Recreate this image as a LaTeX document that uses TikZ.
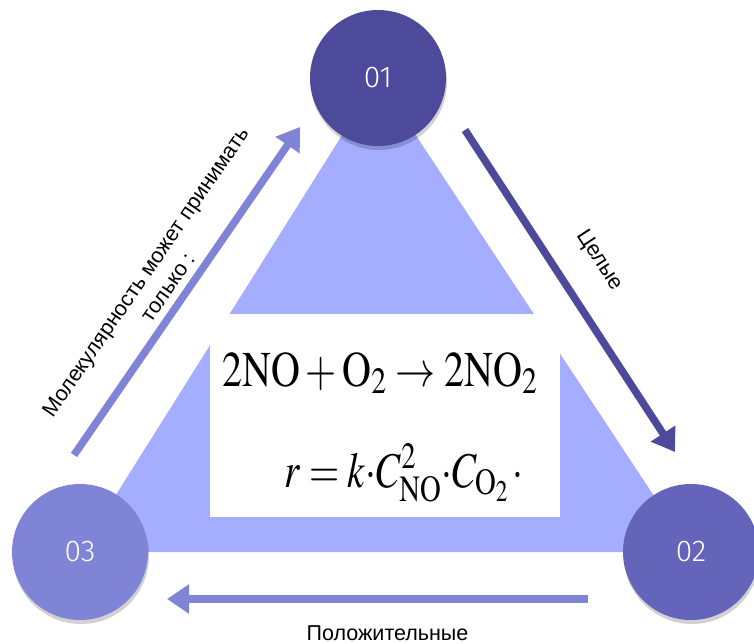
\documentclass[tikz,border=0pt]{standalone}
\usepackage{mathptmx}
\usepackage[no-math]{fontspec}
\usepackage{graphicx}
\newfontfamily\labfont{Liberation Sans}
\newfontfamily\numfont{Fira Sans Light}
\usetikzlibrary{arrows.meta, positioning, shadows, backgrounds}
\definecolor{stepone}{HTML}{4D4A9C}
\definecolor{steptwo}{HTML}{6364BA}
\definecolor{stepthree}{HTML}{7F84D6}
\definecolor{trifill}{HTML}{A4ADFF}

\begin{document}
\begin{tikzpicture}[x=1pt, y=-1pt,
  stepnode/.style={circle, minimum size=136pt, inner sep=0pt, text=white,
                   font=\numfont\fontsize{30}{30}\selectfont,
                   drop shadow={shadow xshift=1pt, shadow yshift=-4pt, opacity=0.18, fill=black}},
  lab/.style={font=\labfont\fontsize{21.5}{27}\selectfont, text=black, inner sep=0pt},
  eqline/.style={anchor=base, inner sep=0pt, font=\fontsize{40}{40}\selectfont},
  arr/.style={line width=7.5pt, -{Triangle[length=22pt, width=28pt]}}]
  \useasboundingbox (0,0) rectangle (754,644);
  % the three steps
  \node[stepnode, fill=stepone] (n01) at (378,78) {01};
  \node[stepnode, fill=steptwo] (n02) at (691,552) {02};
  \node[stepnode, fill=stepthree] (n03) at (80,552) {03};
  \begin{scope}[on background layer]
    \fill[trifill] (n01.center) -- (n02.center) -- (n03.center) -- cycle;
    \node[fill=white, minimum width=350pt, minimum height=203pt, inner sep=0pt] (eqbox) at (385,415.5) {};
  \end{scope}
  % formulas
  \node[eqline] (eqa) at (380,386)
    {\scalebox{1}[1.25]{$2\mathrm{NO}+\mathrm{O}_2\rightarrow 2\mathrm{NO}_2$}};
  \node[eqline] (eqb) at (404,487)
    {\scalebox{0.97}[1.25]{$r=k{\cdot}C^2_{\mathrm{NO}}{\cdot}C_{\mathrm{O}_{2}}\,{\cdot}$}};
  % arrow ends
  \coordinate (t3) at ([shift={(-6,-97)}]n03.center);
  \coordinate (h1) at ([shift={(-78,49)}]n01.center);
  \coordinate (t1) at ([shift={(87,52)}]n01.center);
  \coordinate (h2) at ([shift={(-16,-100)}]n02.center);
  \coordinate (t2) at ([shift={(-103,47)}]n02.center);
  \coordinate (h3) at ([shift={(87,47)}]n03.center);
  \draw[arr, stepthree] (t3) -- node[lab, align=center, sloped, above=7pt, pos=0.48]
    {Молекулярность может принимать\\ только :} (h1);
  \draw[arr, stepone] (t1) -- node[lab, sloped, above=28pt, pos=0.475] {Целые} (h2);
  \draw[arr, stepthree] (t2) -- node[lab, below=23pt, xshift=10pt] {Положительные} (h3);
\end{tikzpicture}
\end{document}
